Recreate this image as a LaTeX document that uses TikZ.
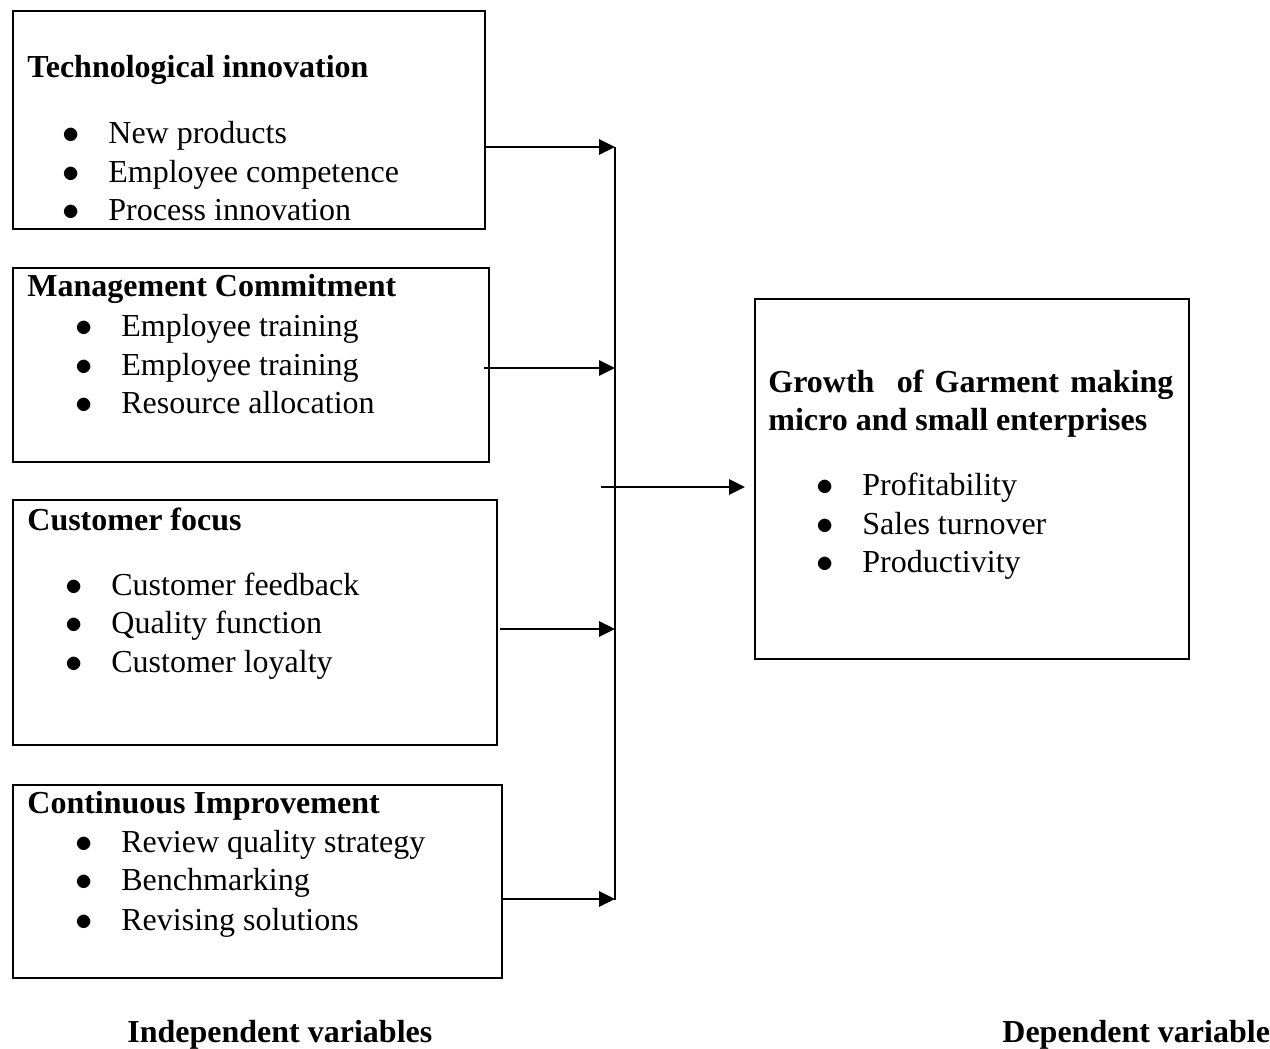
\documentclass[tikz,border=0pt]{standalone}
\usepackage{fontspec}
\setmainfont{Liberation Serif}
\usetikzlibrary{arrows.meta,calc}
\newcommand{\itm}[1]{\makebox[23pt][l]{$\bullet$}#1}
\begin{document}
\begin{tikzpicture}[x=0.5pt, y=-0.5pt,
		every node/.style = {font=\fontsize{16}{19.5}\selectfont},
		box/.style = {draw, line width=1pt, anchor=north west, inner sep=0pt},
		lbl/.style = {anchor=base west, inner sep=0pt},
		hd/.style = {lbl, font=\fontsize{16}{19.5}\selectfont\bfseries},
		arr/.style = {-{Triangle[length=8pt,width=7.5pt]}, line width=1.4pt}]
		\useasboundingbox (0,0) rectangle (1270,1049);
		% independent variables
		\node[box, minimum width=236pt, minimum height=109pt] (tech) at (12,10) {};
		\node[box, minimum width=238pt, minimum height=97pt] (mgmt) at (12,267) {};
		\node[box, minimum width=242pt, minimum height=122.5pt] (cust) at (12,499) {};
		\node[box, minimum width=244.5pt, minimum height=96.5pt] (cont) at (12,784) {};
		% dependent variable
		\node[box, minimum width=217pt, minimum height=180pt] (growth) at (754,298) {};

		\node[hd] (t0) at (27,77) {Technological innovation};
		\node[lbl] (t1) at (62,143) {\itm{New products}};
		\node[lbl] (t2) at (62,182) {\itm{Employee competence}};
		\node[lbl] (t3) at (62,220) {\itm{Process innovation}};

		\node[hd] (m0) at (27,296) {Management Commitment};
		\node[lbl] (m1) at (75,336) {\itm{Employee training}};
		\node[lbl] (m2) at (75,375) {\itm{Employee training}};
		\node[lbl] (m3) at (75,413) {\itm{Resource allocation}};

		\node[hd] (c0) at (27,530) {Customer focus};
		\node[lbl] (c1) at (65,595) {\itm{Customer feedback}};
		\node[lbl] (c2) at (65,633) {\itm{Quality function}};
		\node[lbl] (c3) at (65,672) {\itm{Customer loyalty}};

		\node[hd] (i0) at (27,813) {Continuous Improvement};
		\node[lbl] (i1) at (75,852) {\itm{Review quality strategy}};
		\node[lbl] (i2) at (75,890) {\itm{Benchmarking}};
		\node[lbl] (i3) at (75,930) {\itm{Revising solutions}};

		\node[hd] (g0) at (768,392) {\makebox[202.5pt][s]{Growth\ \ of Garment making}};
		\node[hd] (g1) at (768,430) {micro and small enterprises};
		\node[lbl] (g2) at (816,495) {\itm{Profitability}};
		\node[lbl] (g3) at (816,534) {\itm{Sales turnover}};
		\node[lbl] (g4) at (816,572) {\itm{Productivity}};

		\node[hd] (indep) at (127,1042) {Independent variables};
		\node[hd] (dep) at (1002,1042) {Dependent variable};

		% bus and arrows
		\coordinate (b1) at (615,147);
		\coordinate (b2) at (615,368);
		\coordinate (b3) at (615,629);
		\coordinate (b4) at (615,899);
		\coordinate (jn) at (601,487);
		\draw[line width=1pt] (b1) -- ($(b4)+(0,1)$);
		\draw[arr] (tech.east |- b1) to (b1);
		\draw[arr] ($(mgmt.east |- b2)+(-6,0)$) to (b2);
		\draw[arr] ($(cust.east |- b3)+(2,0)$) to (b3);
		\draw[arr] (cont.east |- b4) to (b4);
		\draw[arr, shorten >=4.5pt] (jn) to (growth.west |- jn);

	\end{tikzpicture}
\end{document}
